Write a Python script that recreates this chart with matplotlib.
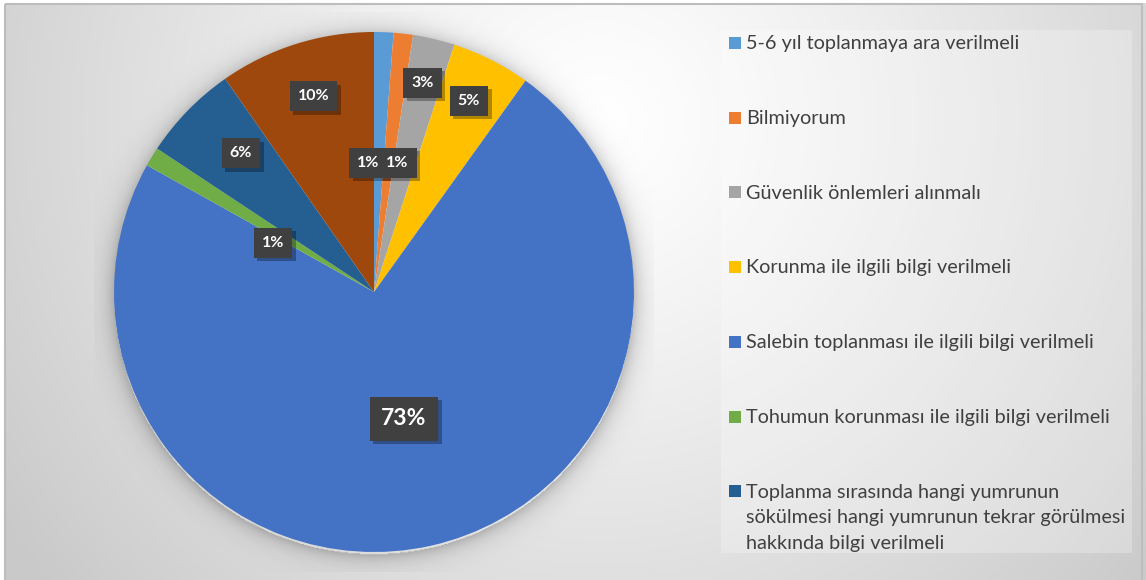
import numpy as np
import matplotlib
matplotlib.use("Agg")
import matplotlib.pyplot as plt
from matplotlib.patches import Rectangle
import matplotlib.patheffects as pe

# ---- data -------------------------------------------------------------
categories = [
    "5-6 yıl toplanmaya ara verilmeli",
    "Bilmiyorum",
    "Güvenlik önlemleri alınmalı",
    "Korunma ile ilgili bilgi verilmeli",
    "Salebin toplanması ile ilgili bilgi verilmeli",
    "Tohumun korunması ile ilgili bilgi verilmeli",
    "Toplanma sırasında hangi yumrunun\nsökülmesi hangi yumrunun tekrar görülmesi\nhakkında bilgi verilmeli",
    "Diğer",
]
shares = [1.2, 1.2, 2.6, 4.9, 73.2, 1.2, 6.0, 9.7]
colors = ["#5B9BD5", "#ED7D31", "#A5A5A5", "#FFC000",
          "#4472C4", "#70AD47", "#255E91", "#9E480E"]

# ---- layout -----------------------------------------------------------
W, H = 1146, 580
CX, CY, R = 374, 292, 260          # pie centre / radius in pixels
HALF = 280
LEGEND_SHOWN = 7                   # entries that fit in the legend panel
label_xy = [(-0.021, 0.498), (0.090, 0.498), (0.187, 0.804), (0.365, 0.735),
            (0.115, -0.488), (-0.388, 0.190), (-0.512, 0.533), (-0.233, 0.752)]
FONT = "Lato"
TEXT_COLOR = "#404040"

fig = plt.figure(figsize=(W / 100, H / 100), dpi=100)
fig.patch.set_facecolor("white")

# background: soft radial gradient inside a framed chart area
bg = fig.add_axes([0, 0, 1, 1], zorder=-10)
yy, xx = np.mgrid[0:H, 0:W]
d = np.hypot(xx - 600, yy - 120) / 720.0
v = 1.0 - 0.21 * np.clip(d, 0, 1) ** 1.2
img = np.dstack([v, v, v])
img[:3, :] = 1.0
img[:, :5] = 1.0
bg.imshow(img, extent=[0, W, H, 0], aspect="auto", interpolation="bilinear")
bg.set_xlim(0, W)
bg.set_ylim(H, 0)
bg.axis("off")
bg.add_patch(Rectangle((5, 3.5), W - 9, H, fill=False,
                       edgecolor="#bdbdbd", lw=1.5))
# legend panel
bg.add_patch(Rectangle((721, 30), 411, 523, facecolor="white",
                       alpha=0.25, edgecolor="none"))

# ---- pie --------------------------------------------------------------
ax = fig.add_axes([(CX - HALF) / W, (H - CY - HALF) / H,
                   2 * HALF / W, 2 * HALF / H])
ax.patch.set_visible(False)
lim = HALF / R

# soft drop shadow around the pie
g = np.linspace(-lim, lim, 600)
gx, gy = np.meshgrid(g, g)
dist = np.hypot(gx, gy + 0.01)
alpha = np.where(dist > 1.0, 0.22 * np.exp(-(dist - 1.0) / 0.035), 0.0)
shadow = np.zeros((600, 600, 4))
shadow[..., 3] = alpha
ax.imshow(shadow, extent=[-lim, lim, -lim, lim], origin="lower", zorder=0)

wedges, _ = ax.pie(shares, colors=colors, startangle=90, counterclock=False,
                   radius=1.0, wedgeprops=dict(linewidth=0, zorder=1))
ax.set_xlim(-lim, lim)
ax.set_ylim(-lim, lim)
ax.axis("off")

# value labels in dark boxes
for i, (val, (lx, ly)) in enumerate(zip(shares, label_xy)):
    big = val > 50
    t = ax.text(lx, ly, f"{val:.0f}%", ha="center", va="center",
                color="white", fontweight="bold", family=FONT,
                fontsize=16.5 if big else 11.5, zorder=5,
                bbox=dict(boxstyle="square,pad=0.5", facecolor="#404040",
                          edgecolor="none"))
    t.get_bbox_patch().set_path_effects(
        [pe.SimplePatchShadow(offset=(2.5, -2.5), shadow_rgbFace="black",
                              alpha=0.3), pe.Normal()])

# ---- legend (drawn in pixel coordinates on the background axes) --------
y0, step, line_step = 43, 74.7, 25.5
for i in range(LEGEND_SHOWN):
    yc = y0 + i * step
    bg.add_patch(Rectangle((729, yc - 6), 12, 12, facecolor=colors[i],
                           edgecolor="none"))
    for j, line in enumerate(categories[i].split("\n")):
        bg.text(746, yc + 6.3 + j * line_step, line, ha="left",
                va="baseline", color=TEXT_COLOR, family=FONT, fontsize=14.3)

fig.savefig("out.png", dpi=100)
